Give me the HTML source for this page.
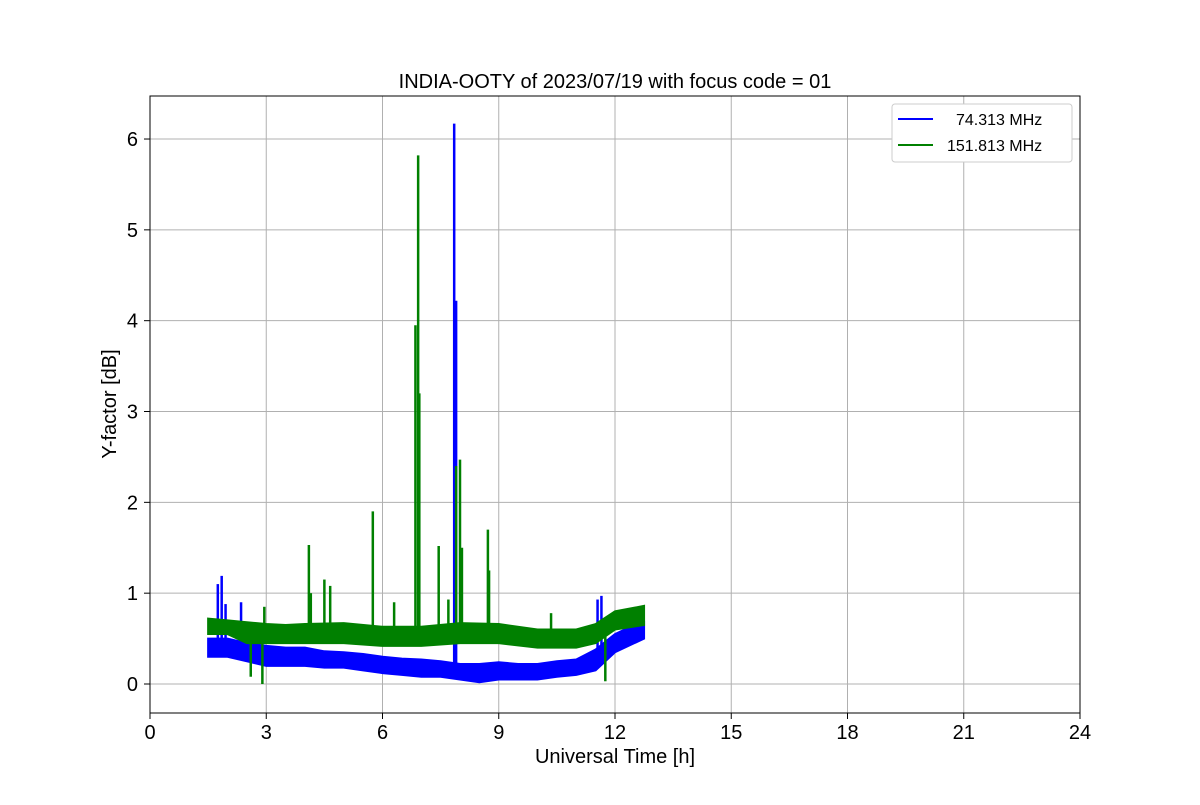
<!DOCTYPE html>
<html><head><meta charset="utf-8"><style>
body{margin:0;background:#fff}
svg text{font-family:"Liberation Sans","DejaVu Sans",sans-serif}
</style></head><body>
<svg id="chart" width="1200" height="800" xmlns="http://www.w3.org/2000/svg">
<rect width="1200" height="800" fill="#fff"/>
<g id="grid"></g>
<g id="series"></g>
<rect x="150" y="96" width="930" height="617" fill="none" stroke="#000" stroke-width="1"/>
<g id="ticks"></g>
<text x="615" y="88" font-size="20" text-anchor="middle">INDIA-OOTY of 2023/07/19 with focus code = 01</text>
<text x="615" y="763" font-size="20" text-anchor="middle">Universal Time [h]</text>
<text transform="translate(116,404) rotate(-90)" font-size="20" text-anchor="middle">Y-factor [dB]</text>
<g>
<rect x="892" y="104" width="180" height="58" rx="3" fill="#fff" stroke="#ccc"/>
<line x1="898" y1="119" x2="933" y2="119" stroke="#0000ff" stroke-width="2"/>
<text x="956" y="125" font-size="16">74.313 MHz</text>
<line x1="898" y1="145" x2="933" y2="145" stroke="#008000" stroke-width="2"/>
<text x="947" y="151" font-size="16">151.813 MHz</text>
</g>
</svg>
<script>
const xTicks=[0,3,6,9,12,15,18,21,24];
const yTicks=[0,1,2,3,4,5,6];
const blueT=[1.5,2,2.5,3,3.5,4,4.5,5,5.5,6,6.5,7,7.5,8,8.5,9,9.5,10,10.5,11,11.5,12,12.5,12.75];
const blueLo=[0.3,0.3,0.25,0.2,0.2,0.2,0.18,0.18,0.15,0.12,0.1,0.08,0.08,0.05,0.02,0.05,0.05,0.05,0.08,0.1,0.15,0.35,0.45,0.5];
const blueHi=[0.5,0.5,0.45,0.42,0.4,0.4,0.36,0.35,0.33,0.3,0.28,0.27,0.25,0.22,0.22,0.24,0.22,0.22,0.25,0.27,0.38,0.55,0.65,0.68];
const greenT=[1.5,2,2.5,3,3.5,4,5,6,7,8,9,10,11,11.5,12,12.75];
const greenLo=[0.55,0.55,0.45,0.45,0.45,0.45,0.45,0.42,0.42,0.45,0.45,0.4,0.4,0.45,0.6,0.65];
const greenHi=[0.72,0.7,0.68,0.66,0.65,0.66,0.67,0.63,0.63,0.67,0.66,0.6,0.6,0.66,0.8,0.86];
const blueSpikeT=[1.75,1.85,1.95,2.35,7.85,7.9,11.55,11.65];
const blueSpikeV=[1.1,1.19,0.88,0.9,6.17,4.22,0.93,0.97];
const greenSpikeT=[2.6,2.9,2.95,4.1,4.15,4.5,4.65,5.75,6.3,6.85,6.92,6.95,7.45,7.7,7.9,8.0,8.05,8.72,8.75,10.35,11.75];
const greenSpikeV=[0.08,0.0,0.85,1.53,1.0,1.15,1.08,1.9,0.9,3.95,5.82,3.2,1.52,0.93,2.4,2.47,1.5,1.7,1.25,0.78,0.03];
const X=v=>150+v*(930/24);
const Y=v=>684-v*90.83;
const NS="http://www.w3.org/2000/svg";
const grid=document.getElementById('grid'),ticks=document.getElementById('ticks'),ser=document.getElementById('series');
function mk(tag,attrs,parent){const e=document.createElementNS(NS,tag);for(const k in attrs)e.setAttribute(k,attrs[k]);parent.appendChild(e);return e;}
xTicks.forEach(t=>{
 const g=mk('line',{x1:X(t),x2:X(t),y1:96,y2:713,stroke:'#b0b0b0','stroke-width':1},grid);
 
 
 mk('line',{x1:X(t),x2:X(t),y1:713,y2:719,stroke:'#000'},ticks);
 const l=mk('text',{x:X(t),y:739,'font-size':20,'text-anchor':'middle'},ticks);
 l.textContent=t;
 
 
});
yTicks.forEach(t=>{
 const g=mk('line',{x1:150,x2:1080,y1:Y(t),y2:Y(t),stroke:'#b0b0b0','stroke-width':1},grid);
 
 
 mk('line',{x1:144,x2:150,y1:Y(t),y2:Y(t),stroke:'#000'},ticks);
 const l=mk('text',{x:138,y:Y(t)+7,'font-size':20,'text-anchor':'end'},ticks);
 l.textContent=t;
 
 
});
function band(T,lo,hi,col,name){
 let pts=T.map((t,i)=>X(t)+','+Y(hi[i]));
 for(let i=T.length-1;i>=0;i--)pts.push(X(T[i])+','+Y(lo[i]));
 const p=mk('polygon',{points:pts.join(' '),fill:col,stroke:col,'stroke-width':2},ser);
 
 
}
function spikes(T,V,lo,hi,BT,col,name){
 T.forEach((t,i)=>{
  let j=0;while(j<BT.length-2&&BT[j+1]<t)j++;
  const base=(lo[j]+hi[j])/2;
  const l=mk('line',{x1:X(t),x2:X(t),y1:Y(base),y2:Y(V[i]),stroke:col,'stroke-width':2.5},ser);
  
  
 });
}
band(blueT,blueLo,blueHi,'#0000ff','series-74mhz-band');
spikes(blueSpikeT,blueSpikeV,blueLo,blueHi,blueT,'#0000ff','series-74mhz-spike');
band(greenT,greenLo,greenHi,'#008000','series-151mhz-band');
spikes(greenSpikeT,greenSpikeV,greenLo,greenHi,greenT,'#008000','series-151mhz-spike');
</script>
</body></html>
